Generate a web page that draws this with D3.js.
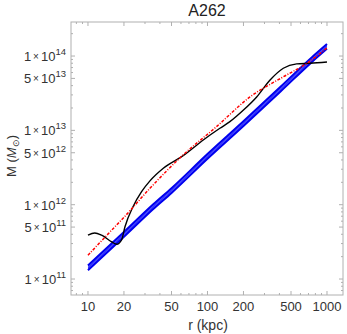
<!DOCTYPE html>
<html><head><meta charset="utf-8">
<script src="https://cdn.jsdelivr.net/npm/d3@7"></script>
<style>body{margin:0;background:#fff}svg{display:block}text{font-family:"Liberation Sans",Arial,sans-serif}</style>
</head><body><svg id="c" width="347" height="334"></svg>
<script>
// Data (r in kpc, log10 M in solar masses)
const blueR    = [10, 20, 35, 50, 100, 200, 431, 745, 1000];
const blueLogM = [11.15, 11.60, 11.97, 12.19, 12.65, 13.09, 13.59, 13.95, 14.13];
const blackR    = [10, 11.4, 13, 15.8, 17.4, 19.1, 20.4, 23.8, 28.1, 33, 42.7, 62.6, 92.2, 127, 154, 199, 258, 334, 431, 557, 721, 1000];
const blackLogM = [11.59, 11.62, 11.59, 11.50, 11.467, 11.525, 11.704, 11.973, 12.175, 12.32, 12.49, 12.66, 12.871, 13.028, 13.117, 13.27, 13.45, 13.678, 13.836, 13.894, 13.903, 13.92];
const redR    = [10, 15, 20, 33, 62.6, 119, 227, 431, 676, 1000];
const redLogM = [11.32, 11.62, 11.83, 12.22, 12.67, 13.05, 13.45, 13.72, 13.90, 14.11];
const xTickVals = [10, 20, 50, 100, 200, 500, 1000];
const yTickVals = [1e11, 5e11, 1e12, 5e12, 1e13, 5e13, 1e14];

const svg = d3.select("#c");
const L = 71, R = 343, T = 22, B = 295;
const x = d3.scaleLog().domain([Math.pow(10, 0.858), Math.pow(10, 3.134)]).range([L, R]);
const y = d3.scaleLog().domain([Math.pow(10, 10.785), Math.pow(10, 14.458)]).range([B, T]);

// frame
svg.append("rect").attr("x", L).attr("y", T).attr("width", R - L).attr("height", B - T)
  .attr("fill", "none").attr("stroke", "#b0b0b0").attr("stroke-width", 1);

const tickCol = "#b0b0b0";
// x ticks
const xMinor = [];
for (let d = 1; d <= 1000; d *= 10) for (let k = 1; k <= 9; k++) { const v = d * k; if (v >= x.domain()[0] && v <= x.domain()[1]) xMinor.push(v); }
xMinor.forEach(v => {
  const major = xTickVals.includes(v);
  const len = major ? 4 : 2;
  const px = x(v);
  svg.append("line").attr("x1", px).attr("x2", px).attr("y1", B).attr("y2", B - len).attr("stroke", tickCol);
  svg.append("line").attr("x1", px).attr("x2", px).attr("y1", T).attr("y2", T + len).attr("stroke", tickCol);
});
xTickVals.forEach(v => {
  svg.append("text").attr("x", x(v)).attr("y", 311).attr("text-anchor", "middle")
    .attr("font-size", 13).attr("fill", "#333").text(v);
});
// y ticks
const yMinor = [];
for (let d = 1e10; d <= 1e14; d *= 10) for (let k = 1; k <= 9; k++) { const v = d * k; if (v >= y.domain()[0] && v <= y.domain()[1]) yMinor.push(v); }
yMinor.forEach(v => {
  const major = yTickVals.some(t => Math.abs(t - v) / v < 1e-6);
  const len = major ? 4 : 2;
  const py = y(v);
  svg.append("line").attr("x1", L).attr("x2", L + len).attr("y1", py).attr("y2", py).attr("stroke", tickCol);
  svg.append("line").attr("x1", R).attr("x2", R - len).attr("y1", py).attr("y2", py).attr("stroke", tickCol);
});
yTickVals.forEach(v => {
  const e = Math.floor(Math.log10(v) + 1e-9);
  const m = Math.round(v / Math.pow(10, e));
  const t = svg.append("text").attr("x", 66).attr("y", y(v) + 5).attr("text-anchor", "end")
    .attr("font-size", 13).attr("fill", "#333");
  t.append("tspan").text(m);
  t.append("tspan").attr("font-size", 10).attr("dy", -1).text("\u2009\u00d7\u2009");
  t.append("tspan").attr("dy", 1).text("10");
  t.append("tspan").attr("font-size", 9.5).attr("dy", -6).text(e);
});

// titles
svg.append("text").attr("x", 207).attr("y", 16).attr("text-anchor", "middle").attr("font-size", 16).attr("fill", "#222").text("A262");
svg.append("text").attr("x", 208).attr("y", 330).attr("text-anchor", "middle").attr("font-size", 14).attr("fill", "#333").text("r (kpc)");
const yl = svg.append("text").attr("transform", "translate(16,156) rotate(-90)").attr("text-anchor", "middle").attr("font-size", 13).attr("fill", "#333");
yl.append("tspan").text("M (");
yl.append("tspan").attr("font-style", "italic").text("M");
yl.append("tspan").attr("font-size", 9).attr("dy", 3).text("\u2299");
yl.append("tspan").attr("dy", -3).text(")");

const g = svg.append("g");
const mk = (rs, ls, off) => rs.map((r, i) => [x(r), y(Math.pow(10, ls[i] + (off || 0)))]);
const line = d3.line().curve(d3.curveMonotoneX);

// blue band
const bandUp = mk(blueR, blueLogM, 0.032), bandLo = mk(blueR, blueLogM, -0.032);
g.append("path").attr("d", d3.area().curve(d3.curveMonotoneX).x(d => d[0]).y0((d, i) => bandLo[i][1]).y1(d => d[1])(bandUp))
  .attr("fill", "#6060ff").attr("stroke", "none");
[bandUp, bandLo].forEach(pts => g.append("path").attr("d", line(pts)).attr("fill", "none").attr("stroke", "#0000ee").attr("stroke-width", 2));
g.append("path").attr("d", line(mk(blueR, blueLogM, 0))).attr("fill", "none").attr("stroke", "#3030ff").attr("stroke-width", 1);

// black
g.append("path").attr("d", line(mk(blackR, blackLogM))).attr("fill", "none").attr("stroke", "#000").attr("stroke-width", 1.4);
// red dash-dot
g.append("path").attr("d", line(mk(redR, redLogM))).attr("fill", "none").attr("stroke", "#ff0000").attr("stroke-width", 1.5)
  .attr("stroke-dasharray", "3,1.5,1,1.5");
</script></body></html>
